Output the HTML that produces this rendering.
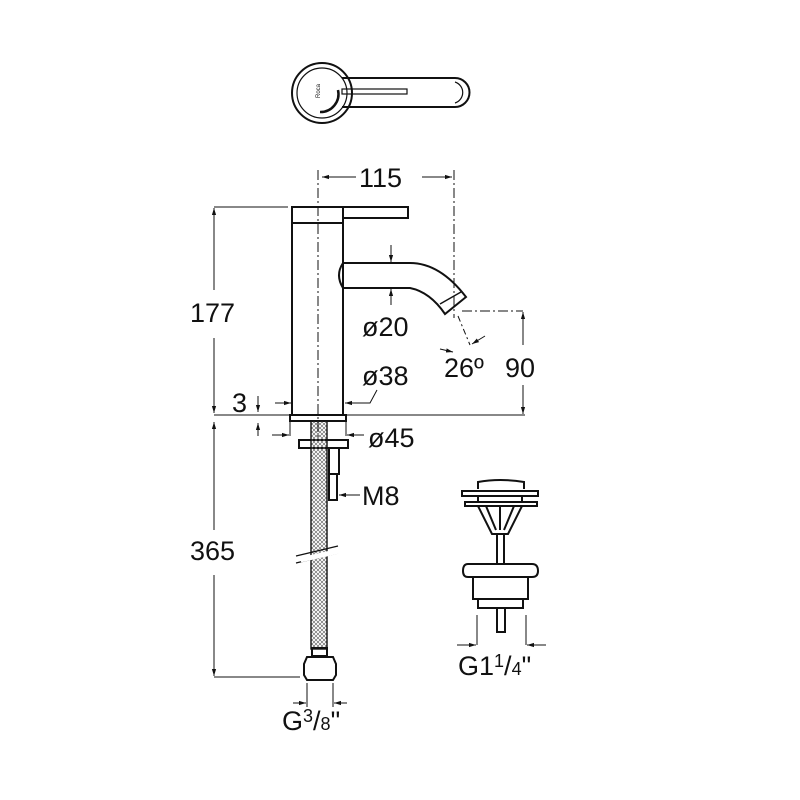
<!DOCTYPE html>
<html><head><meta charset="utf-8"><style>
html,body{margin:0;padding:0;background:#fff}
svg{display:block}
text{font-family:"Liberation Sans",sans-serif;fill:#111}
</style></head><body>
<svg width="800" height="800" viewBox="0 0 800 800" xmlns="http://www.w3.org/2000/svg">
<defs>
<marker id="a" viewBox="0 0 10 10" refX="10" refY="5" markerWidth="7" markerHeight="7" orient="auto-start-reverse"><path d="M0,2 L10,5 L0,8 z" fill="#111"/></marker>
<pattern id="mesh" width="4" height="4" patternUnits="userSpaceOnUse"><path d="M0,0 L4,4 M4,0 L0,4" stroke="#555" stroke-width="0.6"/></pattern>
</defs>
<g fill="none" stroke="#111" stroke-width="2">
<circle cx="322" cy="93" r="30"/>
<circle cx="322" cy="93" r="25" stroke-width="1.2"/>
<path d="M342,78 H455 A14,14 0 0 1 455,107 H342"/>
<path d="M455,82 A11,11 0 0 1 455,103" stroke-width="1.2"/>
<rect x="342" y="89" width="65" height="5" stroke-width="1.2"/>
<path d="M338,90 A18,18 0 0 1 320,112" stroke-width="2.5"/>
</g>
<text x="316" y="102" font-size="6" transform="rotate(-90 316 98)">Roca</text>
<g fill="none" stroke="#111" stroke-width="2">
<rect x="292" y="207" width="51" height="16"/>
<path d="M343,207 H408 V218 H343"/>
<rect x="292" y="223" width="51" height="192"/>
<rect x="290" y="415" width="56" height="6"/>
<path d="M343,263 H410 Q440,263 466,297 L445,314 Q430,292 410,288 H343"/>
<path d="M343,263 Q335,275 343,288"/>
<path d="M440,304 L461,292" stroke-width="1.4"/>
<rect x="299" y="440" width="49" height="8"/>
<rect x="329" y="448" width="10" height="26"/>
<rect x="329" y="474" width="8" height="26"/>
<rect x="311" y="421" width="16" height="228" fill="url(#mesh)" stroke-width="1.4"/>
<rect x="312" y="648" width="15" height="8"/>
<path d="M307,657 H333 L336,664 V675 L333,680 H307 L304,675 V664 Z"/>
<path d="M478,489 V482 Q500,478 524,482 V489"/>
<rect x="462" y="491" width="76" height="5"/>
<rect x="465" y="502" width="72" height="4"/>
<path d="M478,496 V502 M522,496 V502"/>
<path d="M478,506 L492,534 H508 L522,506"/>
<path d="M486,506 L496,530 M514,506 L504,530 M500,506 V530"/>
<rect x="497" y="534" width="7" height="30"/>
<path d="M468,564 H532 Q538,564 538,571 Q538,577 532,577 H468 Q463,577 463,571 Q463,564 468,564 Z"/>
<rect x="473" y="577" width="55" height="22"/>
<rect x="478" y="599" width="45" height="9"/>
<rect x="497" y="608" width="8" height="24"/>
</g>
<g fill="none" stroke="#111" stroke-width="1">
<path d="M318,170 V440" stroke-dasharray="10,3,2,3"/>
<path d="M454,170 V318" stroke-dasharray="10,3,2,3"/>
<path d="M462,311 H523" stroke-dasharray="10,3,2,3"/>
<path d="M458,316 L470,345" stroke-dasharray="6,3,2,3"/>
<path d="M322,177 H356" marker-start="url(#a)"/>
<path d="M422,177 H452" marker-end="url(#a)"/>
<path d="M214,207 H288 M214,415 H525 M214,677 H300"/>
<path d="M214,208 V290" marker-start="url(#a)"/>
<path d="M214,338 V413" marker-end="url(#a)"/>
<path d="M214,422 V530" marker-start="url(#a)"/>
<path d="M214,575 V676" marker-end="url(#a)"/>
<path d="M523,312 V345" marker-start="url(#a)"/>
<path d="M523,385 V414" marker-end="url(#a)"/>
<path d="M391,245 V262" marker-end="url(#a)"/>
<path d="M391,305 V289" marker-end="url(#a)"/>
<path d="M440,349 L453,352" marker-end="url(#a)"/>
<path d="M485,336 L472,344" marker-end="url(#a)"/>
<path d="M275,403 H291" marker-end="url(#a)"/>
<path d="M377,390 L370,403 H345" marker-end="url(#a)"/>
<path d="M258,396 V412" marker-end="url(#a)"/>
<path d="M258,436 V423" marker-end="url(#a)"/>
<path d="M290,421 V436 M346,421 V436"/>
<path d="M272,435 H289" marker-end="url(#a)"/>
<path d="M364,435 H347" marker-end="url(#a)"/>
<path d="M360,495 H339" marker-end="url(#a)"/>
<path d="M307,683 V707 M333,683 V707"/>
<path d="M293,703 H306" marker-end="url(#a)"/>
<path d="M347,703 H334" marker-end="url(#a)"/>
<path d="M477,615 V645 M526,615 V645"/>
<path d="M457,645 H476" marker-end="url(#a)"/>
<path d="M546,645 H527" marker-end="url(#a)"/>
</g>
<g stroke="#111" stroke-width="1.2"><path d="M296,556 L338,546 M296,563 L338,553"/></g>
<rect x="300" y="553" width="40" height="5" fill="#fff" transform="rotate(-13 320 555)"/>
<g font-size="27">
<text x="359" y="187">115</text>
<text x="190" y="322">177</text>
<text x="190" y="560">365</text>
<text x="362" y="336">ø20</text>
<text x="362" y="385">ø38</text>
<text x="444" y="377">26º</text>
<text x="505" y="377">90</text>
<text x="232" y="412">3</text>
<text x="368" y="447">ø45</text>
<text x="362" y="505">M8</text>
<text x="282" y="730">G<tspan font-size="18" dy="-8">3</tspan><tspan dy="8">/</tspan><tspan font-size="18">8</tspan>"</text>
<text x="458" y="675">G1<tspan font-size="18" dy="-8">1</tspan><tspan dy="8">/</tspan><tspan font-size="18">4</tspan>"</text>
</g>
</svg>
</body></html>
